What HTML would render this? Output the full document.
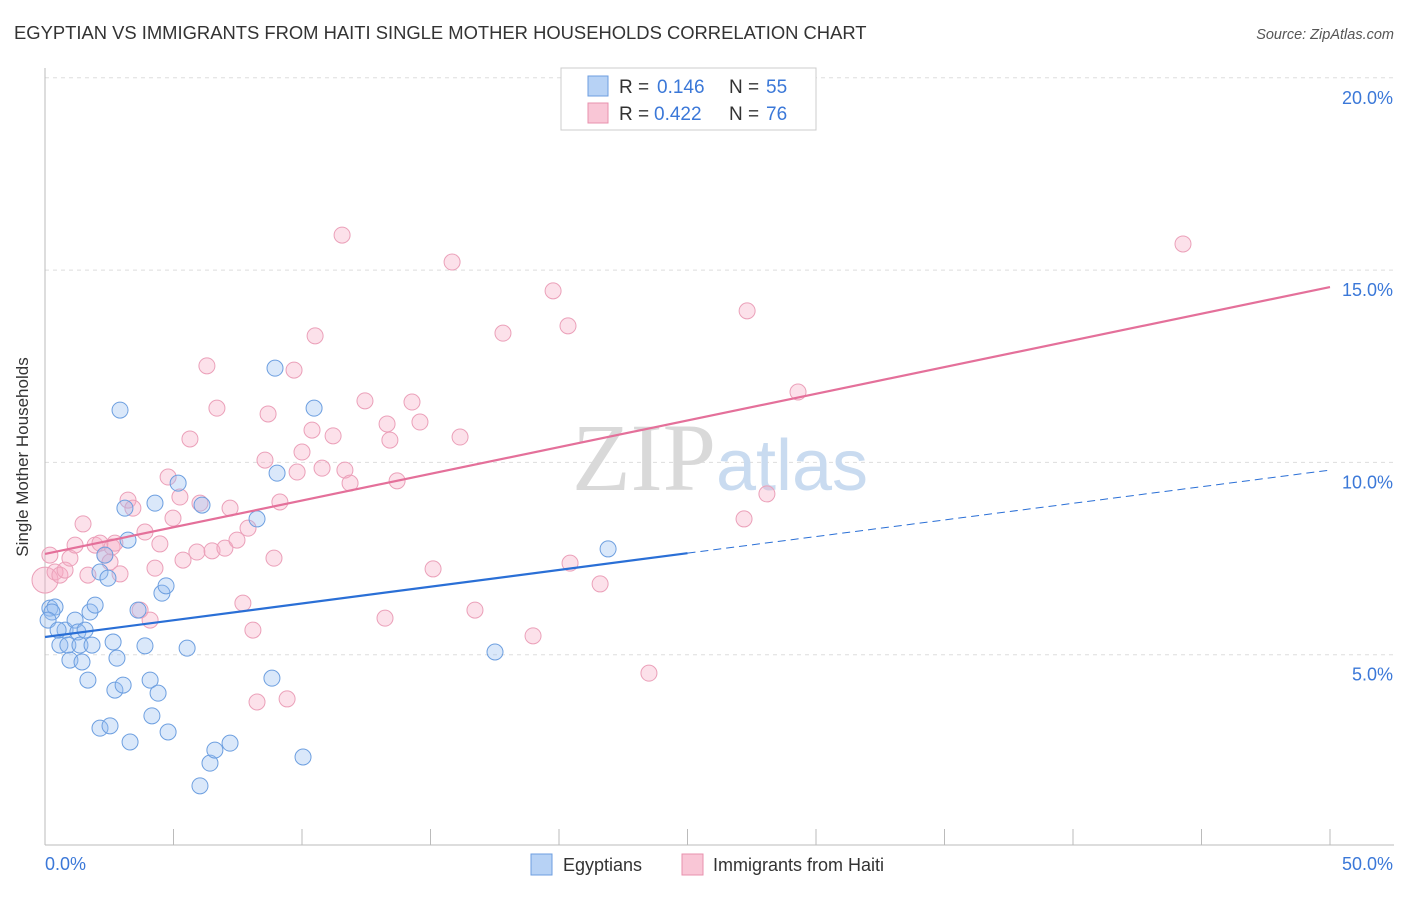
<!DOCTYPE html>
<html><head><meta charset="utf-8"><style>
body{margin:0;background:#fff;font-family:"Liberation Sans",sans-serif;}
svg text{font-family:"Liberation Sans",sans-serif;}
</style></head><body>
<svg id="chart" width="1406" height="892">
<text x="14" y="39" font-size="18.4" fill="#333">EGYPTIAN VS IMMIGRANTS FROM HAITI SINGLE MOTHER HOUSEHOLDS CORRELATION CHART</text>
<text x="1394" y="39" font-size="14.5" fill="#555" font-style="italic" text-anchor="end">Source: ZipAtlas.com</text>
<text x="28" y="457" font-size="17" fill="#333" text-anchor="middle" transform="rotate(-90 28 457)">Single Mother Households</text>
<g id="grid"></g>
<text x="720" y="490" font-size="96" fill="#d9d9d9" text-anchor="middle" font-family="Liberation Serif"><tspan font-family="Liberation Serif">ZIP</tspan><tspan fill="#c9dbf0" font-size="72" font-family="Liberation Sans">atlas</tspan></text>
<g id="marks"></g>
<g>
<rect x="561" y="68" width="255" height="62" fill="#fff" stroke="#ccc"/>
<rect x="588" y="76" width="20" height="20" fill="#b7d2f5" stroke="#6c9ee0"/>
<rect x="588" y="103" width="20" height="20" fill="#f9c6d6" stroke="#e891ae"/>
<text x="619" y="93" font-size="19" fill="#333">R =</text>
<text x="657" y="93" font-size="19" fill="#3b78d8">0.146</text>
<text x="729" y="93" font-size="19" fill="#333">N =</text>
<text x="766" y="93" font-size="19" fill="#3b78d8">55</text>
<text x="619" y="120" font-size="19" fill="#333">R =</text>
<text x="654" y="120" font-size="19" fill="#3b78d8">0.422</text>
<text x="729" y="120" font-size="19" fill="#333">N =</text>
<text x="766" y="120" font-size="19" fill="#3b78d8">76</text>
</g>
<g>
<rect x="531" y="854" width="21" height="21" fill="#b7d2f5" stroke="#6c9ee0"/>
<text x="563" y="871" font-size="18" fill="#333">Egyptians</text>
<rect x="682" y="854" width="21" height="21" fill="#f9c6d6" stroke="#e891ae"/>
<text x="713" y="871" font-size="18" fill="#333">Immigrants from Haiti</text>
</g>
</svg>
<script>
const yTicks=[5,10,15,20];
const yTickLabels=["5.0%","10.0%","15.0%","20.0%"];
const xTicks=[0,5,10,15,20,25,30,35,40,45,50];
const blueX=[0.19,0.39,0.27,0.58,0.78,0.89,0.97,1.17,1.28,1.36,1.44,1.56,1.67,1.75,1.95,1.83,2.14,2.33,2.45,2.65,2.80,2.72,2.92,3.04,3.11,3.23,3.31,2.14,2.53,3.62,3.89,4.09,4.16,4.28,4.40,4.55,4.71,4.79,5.18,5.53,6.03,6.11,6.42,6.61,7.20,8.25,8.83,8.95,9.03,10.04,10.47,17.51,21.91,0.12,0.51];
const blueY=[6.21,6.24,6.11,5.25,5.64,5.25,4.86,5.90,5.59,5.25,4.81,5.64,4.34,6.11,6.29,5.25,7.15,7.59,6.99,5.33,4.91,4.08,11.36,4.21,8.81,7.98,2.73,3.09,3.15,6.16,5.23,4.34,3.41,8.94,4.00,6.60,6.79,2.99,9.46,5.17,1.59,8.89,2.18,2.52,2.70,8.53,4.39,12.45,9.72,2.34,11.41,5.07,7.75,5.90,5.64];
const pinkX=[0.0,0.19,0.39,0.58,0.78,0.97,1.17,1.48,1.67,1.95,2.14,2.33,2.53,2.61,2.72,2.92,3.23,3.42,3.70,3.89,4.09,4.28,4.47,4.79,4.98,5.25,5.37,5.64,5.91,6.03,6.30,6.50,6.69,7.00,7.20,7.47,7.70,7.90,8.09,8.25,8.56,8.68,8.91,9.14,9.42,9.69,9.81,10.00,10.39,10.51,10.78,11.21,11.56,11.67,11.87,12.45,13.23,13.31,13.42,13.70,14.28,14.59,15.10,15.84,16.15,16.73,17.82,18.99,19.77,20.35,20.43,21.60,23.50,27.20,27.32,28.09,29.30,44.28];
const pinkY=[6.94,7.59,7.15,7.07,7.20,7.51,7.85,8.40,7.07,7.85,7.90,7.59,7.41,7.80,7.90,7.10,9.02,8.81,6.16,8.19,5.90,7.25,7.88,9.62,8.55,9.10,7.46,10.61,7.67,8.94,12.51,7.70,11.41,7.77,8.81,7.98,6.34,8.29,5.64,3.77,10.06,11.26,7.51,8.97,3.85,12.40,9.75,10.27,10.84,13.29,9.85,10.69,15.91,9.80,9.46,11.60,5.95,11.00,10.58,9.52,11.57,11.05,7.23,15.21,10.66,6.16,13.36,5.49,14.46,13.55,7.38,6.84,4.52,8.53,13.94,9.18,11.83,15.68];
const blueLine=[5.46,7.64,9.80];
const pinkLine=[7.62,14.56];
const NS="http://www.w3.org/2000/svg";
const sx=v=>45+v*25.7, sy=v=>847-v*38.46;
function mk(tag,attrs,parent){const e=document.createElementNS(NS,tag);for(const k in attrs)e.setAttribute(k,attrs[k]);parent.appendChild(e);return e;}
const grid=document.getElementById('grid'), marks=document.getElementById('marks');
yTicks.forEach((t,i)=>{
 const l=mk('line',{x1:45,x2:1394,y1:sy(t),y2:sy(t),stroke:'#ddd','stroke-dasharray':'4,4'},grid);
 
 
 const tx=mk('text',{x:1393,y:sy(t)+26,'font-size':18,fill:'#3b78d8','text-anchor':'end'},grid);
 tx.textContent=yTickLabels[i];
 
 
});
mk('line',{x1:45,x2:45,y1:68,y2:845,stroke:'#bbb'},grid);
mk('line',{x1:45,x2:1394,y1:845,y2:845,stroke:'#bbb'},grid);
xTicks.forEach(t=>{
 const l=mk('line',{x1:sx(t),x2:sx(t),y1:829,y2:845,stroke:'#bbb'},grid);
 
 
});
const x0=mk('text',{x:45,y:870,'font-size':18,fill:'#3b78d8'},grid);x0.textContent='0.0%';

const x1=mk('text',{x:1393,y:870,'font-size':18,fill:'#3b78d8','text-anchor':'end'},grid);x1.textContent='50.0%';

pinkX.forEach((x,i)=>{
 const c=mk('circle',{cx:sx(x),cy:sy(pinkY[i]),r:i===0?13:8,fill:'rgba(246,170,196,0.35)',stroke:'#eba0b9','stroke-width':1},marks);
 
 
});
blueX.forEach((x,i)=>{
 const c=mk('circle',{cx:sx(x),cy:sy(blueY[i]),r:8,fill:'rgba(150,190,240,0.35)',stroke:'#6d9fe0','stroke-width':1},marks);
 
 
});
const bl=mk('line',{x1:sx(0),y1:sy(blueLine[0]),x2:sx(25),y2:sy(blueLine[1]),stroke:'#2a6fd6','stroke-width':2.2},marks);


const bd=mk('line',{x1:sx(25),y1:sy(blueLine[1]),x2:sx(50),y2:sy(blueLine[2]),stroke:'#2a6fd6','stroke-width':1,'stroke-dasharray':'8,5'},marks);


const pl=mk('line',{x1:sx(0),y1:sy(pinkLine[0]),x2:sx(50),y2:sy(pinkLine[1]),stroke:'#e4709a','stroke-width':2.2},marks);


</script>
</body></html>
